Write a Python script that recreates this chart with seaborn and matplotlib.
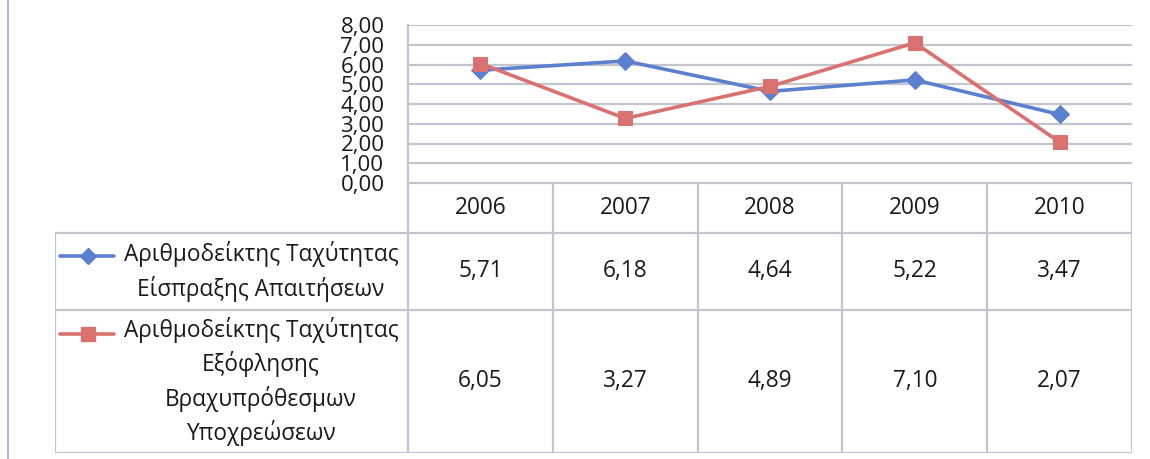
import numpy as np
import pandas as pd
import matplotlib
matplotlib.use("Agg")
import matplotlib.pyplot as plt
import seaborn as sns
from matplotlib.lines import Line2D

# ---------------- data ----------------
years = ["2006", "2007", "2008", "2009", "2010"]
receivables = [5.71, 6.18, 4.64, 5.22, 3.47]
payables = [6.05, 3.27, 4.89, 7.10, 2.07]
series_names = [
    "Αριθμοδείκτης Ταχύτητας\nΕίσπραξης Απαιτήσεων",
    "Αριθμοδείκτης Ταχύτητας\nΕξόφλησης\nΒραχυπρόθεσμων\nΥποχρεώσεων",
]
yticks = [0, 1, 2, 3, 4, 5, 6, 7, 8]

def fmt(v):
    return f"{v:.2f}".replace(".", ",")

# ---------------- style ----------------
sns.set_theme(style="white")
plt.rcParams["font.family"] = ["Open Sans", "DejaVu Sans"]

BLUE = "#5b80cf"
RED = "#d9716f"
GRID = "#c4c4cc"
TXT = "#1a1a1a"
FS = 16.3

W, H = 1150, 459
fig = plt.figure(figsize=(W / 100, H / 100), dpi=100)
fig.patch.set_facecolor("white")

# layout (pixels)
plot_l, plot_r, plot_t, plot_b = 408, 1132, 25, 183
tab_l, tab_b = 55, 453
row_bounds = [0, 50, 127, 270]  # relative to plot_b
colw = (plot_r - plot_l) / len(years)

# ---------------- line chart ----------------
ax = fig.add_axes([plot_l / W, 1 - plot_b / H, (plot_r - plot_l) / W, (plot_b - plot_t) / H])
xpos = np.arange(len(years))
df = pd.DataFrame({
    "x": np.concatenate([xpos, xpos]),
    "value": receivables + payables,
    "series": ["rec"] * len(years) + ["pay"] * len(years),
})
sns.lineplot(data=df[df.series == "rec"], x="x", y="value", ax=ax, color=BLUE,
             linewidth=2.6, marker="D", markersize=9, markeredgecolor=BLUE, zorder=3)
sns.lineplot(data=df[df.series == "pay"], x="x", y="value", ax=ax, color=RED,
             linewidth=2.6, marker="s", markersize=10, markeredgecolor=RED, zorder=4)
ax.set_xlim(-0.5, len(years) - 0.5)
ax.set_ylim(0, 8)
ax.set_yticks(yticks)
ax.set_yticklabels([fmt(v) for v in yticks], fontsize=16, color=TXT)
ax.tick_params(axis="y", length=0, pad=17)
ax.set_xticks([])
ax.set_xlabel("")
ax.set_ylabel("")
ax.grid(axis="y", color=GRID, linewidth=1.6)
ax.set_axisbelow(True)
for s in ["top", "right", "bottom"]:
    ax.spines[s].set_visible(False)
ax.spines["left"].set_color(GRID)
ax.spines["left"].set_linewidth(1.6)
ax.patch.set_alpha(0)
if ax.get_legend():
    ax.get_legend().remove()

# ---------------- data table ----------------
tax = fig.add_axes([tab_l / W, 1 - tab_b / H, (plot_r - tab_l) / W, (tab_b - plot_b) / H])
xl = -0.5 - (plot_l - tab_l) / colw
tax.set_xlim(xl, len(years) - 0.5)
tax.set_ylim(row_bounds[-1], 0)
tax.axis("off")

def px(xp):
    return (xp - plot_l) / colw - 0.5

lk = dict(color=GRID, linewidth=1.6, solid_capstyle="butt")
# horizontal lines
tax.plot([-0.5, len(years) - 0.5], [0, 0], **lk)
for yb in row_bounds[1:]:
    tax.plot([xl, len(years) - 0.5], [yb, yb], **lk)
# vertical lines
for i in range(len(years) + 1):
    tax.plot([i - 0.5, i - 0.5], [0, row_bounds[-1]], **lk)
tax.plot([xl, xl], [row_bounds[1], row_bounds[-1]], **lk)

# year row
yc0 = (row_bounds[0] + row_bounds[1]) / 2
for i, y in enumerate(years):
    tax.text(i, yc0, y, ha="center", va="center", fontsize=FS, color=TXT)

# value rows
rows = [receivables, payables]
colors = [BLUE, RED]
markers = ["D", "s"]
msizes = [8, 10]
for r, (vals, name, c, m, ms) in enumerate(zip(rows, series_names, colors, markers, msizes)):
    y0, y1 = row_bounds[r + 1], row_bounds[r + 2]
    yc = (y0 + y1) / 2
    for i, v in enumerate(vals):
        tax.text(i, yc, fmt(v), ha="center", va="center", fontsize=FS, color=TXT)
    tax.text(px(261), yc, name, ha="center", va="center", fontsize=FS,
             color=TXT, linespacing=1.42)
    # legend sample
    nlines = name.count("\n") + 1
    ytop = yc - (nlines - 1) * 32 / 2
    tax.add_line(Line2D([px(60), px(114)], [ytop, ytop], color=c, linewidth=2.6))
    tax.plot([px(88)], [ytop], marker=m, markersize=ms, color=c, markeredgecolor=c)

# outer chart frame (left edge)
fig.add_artist(Line2D([8 / W, 8 / W], [0, 1], color="#b8b8c0", linewidth=1.6))

fig.savefig("out.png", dpi=100, facecolor="white")
